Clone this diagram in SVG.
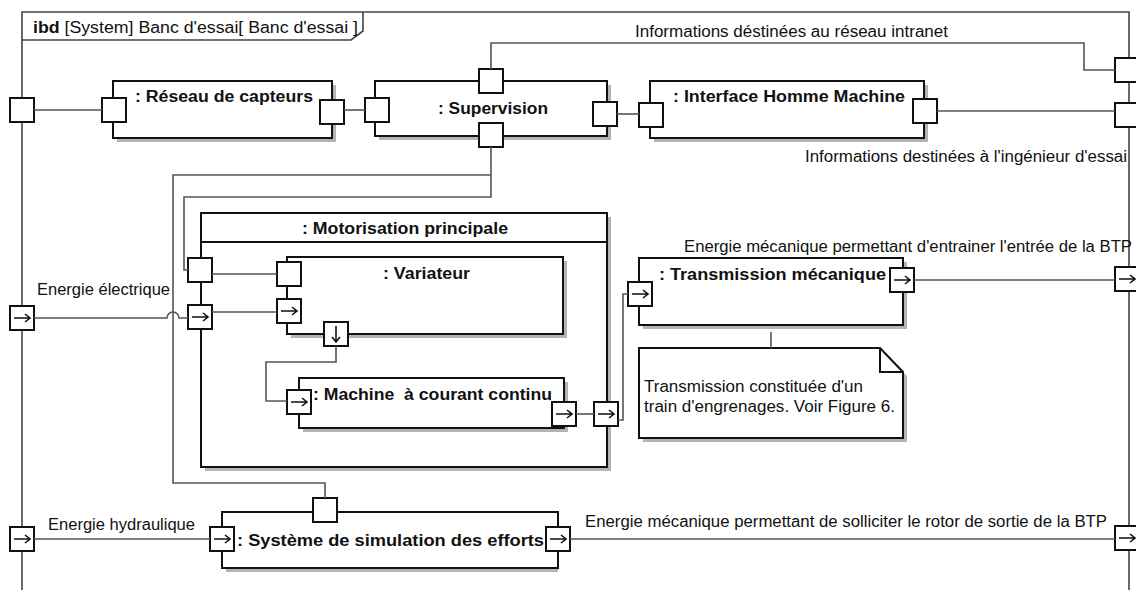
<svg xmlns="http://www.w3.org/2000/svg" xmlns:xlink="http://www.w3.org/1999/xlink" width="1136" height="590" viewBox="0 0 1136 590">
<style>
.blk{fill:#fff;stroke:#111;stroke-width:2}
.shd{fill:#b4b4b4}
.port{fill:#fff;stroke:#111;stroke-width:2}
.con{fill:none;stroke:#555;stroke-width:1.6}
.frm{fill:none;stroke:#444;stroke-width:1.6}
.arw{fill:none;stroke:#111;stroke-width:1.6}
.lbl{font-family:"Liberation Sans",Arial,sans-serif;font-size:16px;fill:#111}
.b{font-weight:bold}
</style>
<defs>
<g id="pp"><rect class="port" x="0" y="0" width="24" height="24"/></g>
<g id="pa"><rect class="port" x="0" y="0" width="24" height="24"/><path class="arw" d="M4 12H20M15 8L20 12L15 16"/></g>
<g id="pd"><rect class="port" x="0" y="0" width="24" height="24"/><path class="arw" d="M12 4V20M8 15L12 20L16 15"/></g>
</defs>
<rect width="1136" height="590" fill="#fff"/>
<g id="frame">
<path class="frm" d="M22 600V12H1129V600"/>
<path class="frm" d="M22 40H351L363 31V12"/>
<text class="lbl" x="33" y="33" textLength="325" lengthAdjust="spacingAndGlyphs"><tspan class="b">ibd</tspan> [System] Banc d'essai[ Banc d'essai ]</text>
<use xlink:href="#pp" x="10" y="98"/>
<use xlink:href="#pa" x="10" y="306"/>
<use xlink:href="#pa" x="10" y="527"/>
<use xlink:href="#pp" x="1115" y="58"/>
<use xlink:href="#pp" x="1115" y="103"/>
<use xlink:href="#pa" x="1115" y="267"/>
<use xlink:href="#pa" x="1115" y="526"/>
</g>
<g id="motorisation">
<rect class="shd" x="205" y="217" width="406" height="254"/>
<rect class="blk" x="201" y="213" width="406" height="254"/>
<path class="blk" d="M201 242H607"/>
<text class="lbl b" x="302" y="234" textLength="206" lengthAdjust="spacingAndGlyphs">: Motorisation principale</text>
<use xlink:href="#pp" x="188" y="258"/>
<use xlink:href="#pa" x="188" y="305"/>
<use xlink:href="#pa" x="594" y="402"/>
</g>
<g id="variateur">
<rect class="shd" x="291" y="261" width="276" height="77"/>
<rect class="blk" x="287" y="257" width="276" height="77"/>
<text class="lbl b" x="383" y="279" textLength="87" lengthAdjust="spacingAndGlyphs">: Variateur</text>
<use xlink:href="#pp" x="277" y="262"/>
<use xlink:href="#pa" x="277" y="299"/>
<use xlink:href="#pd" x="324" y="322"/>
</g>
<g id="machine">
<rect class="shd" x="303" y="382" width="265" height="50"/>
<rect class="blk" x="299" y="378" width="265" height="50"/>
<text class="lbl b" x="313" y="400" textLength="239" lengthAdjust="spacingAndGlyphs" xml:space="preserve">: Machine  à courant continu</text>
<use xlink:href="#pa" x="287" y="390"/>
<use xlink:href="#pa" x="552" y="402"/>
</g>
<g id="reseau">
<rect class="shd" x="117" y="85" width="219" height="57"/>
<rect class="blk" x="113" y="81" width="219" height="57"/>
<text class="lbl b" x="135" y="102" textLength="178" lengthAdjust="spacingAndGlyphs">: Réseau de capteurs</text>
<use xlink:href="#pp" x="102" y="98"/>
<use xlink:href="#pp" x="320" y="100"/>
</g>
<g id="supervision">
<rect class="shd" x="379" y="85" width="232" height="55"/>
<rect class="blk" x="375" y="81" width="232" height="55"/>
<text class="lbl b" x="438" y="114" textLength="110" lengthAdjust="spacingAndGlyphs">: Supervision</text>
<use xlink:href="#pp" x="365" y="98"/>
<use xlink:href="#pp" x="479" y="69"/>
<use xlink:href="#pp" x="479" y="123"/>
<use xlink:href="#pp" x="593" y="102"/>
</g>
<g id="ihm">
<rect class="shd" x="654" y="85" width="274" height="57"/>
<rect class="blk" x="650" y="81" width="274" height="57"/>
<text class="lbl b" x="673" y="102" textLength="232" lengthAdjust="spacingAndGlyphs">: Interface Homme Machine</text>
<use xlink:href="#pp" x="639" y="103"/>
<use xlink:href="#pp" x="913" y="99"/>
</g>
<g id="transmission">
<rect class="shd" x="643" y="262" width="264" height="67"/>
<rect class="blk" x="639" y="258" width="264" height="67"/>
<text class="lbl b" x="659" y="280" textLength="227" lengthAdjust="spacingAndGlyphs">: Transmission mécanique</text>
<use xlink:href="#pa" x="628" y="282"/>
<use xlink:href="#pa" x="890" y="268"/>
</g>
<g id="note">
<path class="shd" d="M643 352H884L907 376V442H643Z"/>
<path class="blk" d="M639 348H880L903 372V438H639Z"/>
<path class="blk" d="M880 348V372H903" style="fill:none"/>
<text class="lbl" x="644" y="392" textLength="219" lengthAdjust="spacingAndGlyphs">Transmission constituée d'un</text>
<text class="lbl" x="644" y="412" textLength="251" lengthAdjust="spacingAndGlyphs">train d'engrenages. Voir Figure 6.</text>
</g>
<g id="systeme">
<rect class="shd" x="226" y="516" width="332" height="56"/>
<rect class="blk" x="222" y="512" width="336" height="56"/>
<text class="lbl b" x="237" y="546" textLength="307" lengthAdjust="spacingAndGlyphs">: Système de simulation des efforts</text>
<use xlink:href="#pp" x="313" y="498"/>
<use xlink:href="#pa" x="210" y="527"/>
<use xlink:href="#pa" x="546" y="527"/>
</g>
<g id="connectors">
<path class="con" d="M34 110H102"/>
<path class="con" d="M344 110H365"/>
<path class="con" d="M491 69V43H1084V70H1115"/>
<path class="con" d="M617 114H639"/>
<path class="con" d="M937 111H1115"/>
<path class="con" d="M491 147V197H184V270H188"/>
<path class="con" d="M491 175H173V483H325V498"/>
<path class="con" d="M34 318H167A6 6 0 0 1 179 318H188"/>
<path class="con" d="M212 274H277"/>
<path class="con" d="M212 312H277"/>
<path class="con" d="M336 346V362H266V401H287"/>
<path class="con" d="M576 414H594"/>
<path class="con" d="M618 420H623V294H628"/>
<path class="con" d="M914 280H1115"/>
<path class="con" d="M771 332V348"/>
<path class="con" d="M34 539H210"/>
<path class="con" d="M570 539H1115"/>
</g>
<g id="labels">
<text class="lbl" x="635" y="37" textLength="313" lengthAdjust="spacingAndGlyphs">Informations déstinées au réseau intranet</text>
<text class="lbl" x="805" y="162" textLength="322" lengthAdjust="spacingAndGlyphs">Informations destinées à l'ingénieur d'essai</text>
<text class="lbl" x="684" y="252" textLength="448" lengthAdjust="spacingAndGlyphs">Energie mécanique permettant d'entrainer l'entrée de la BTP</text>
<text class="lbl" x="37" y="295" textLength="133" lengthAdjust="spacingAndGlyphs">Energie électrique</text>
<text class="lbl" x="48" y="530" textLength="147" lengthAdjust="spacingAndGlyphs">Energie hydraulique</text>
<text class="lbl" x="585" y="527" textLength="522" lengthAdjust="spacingAndGlyphs">Energie mécanique permettant de solliciter le rotor de sortie de la BTP</text>
</g>
</svg>
